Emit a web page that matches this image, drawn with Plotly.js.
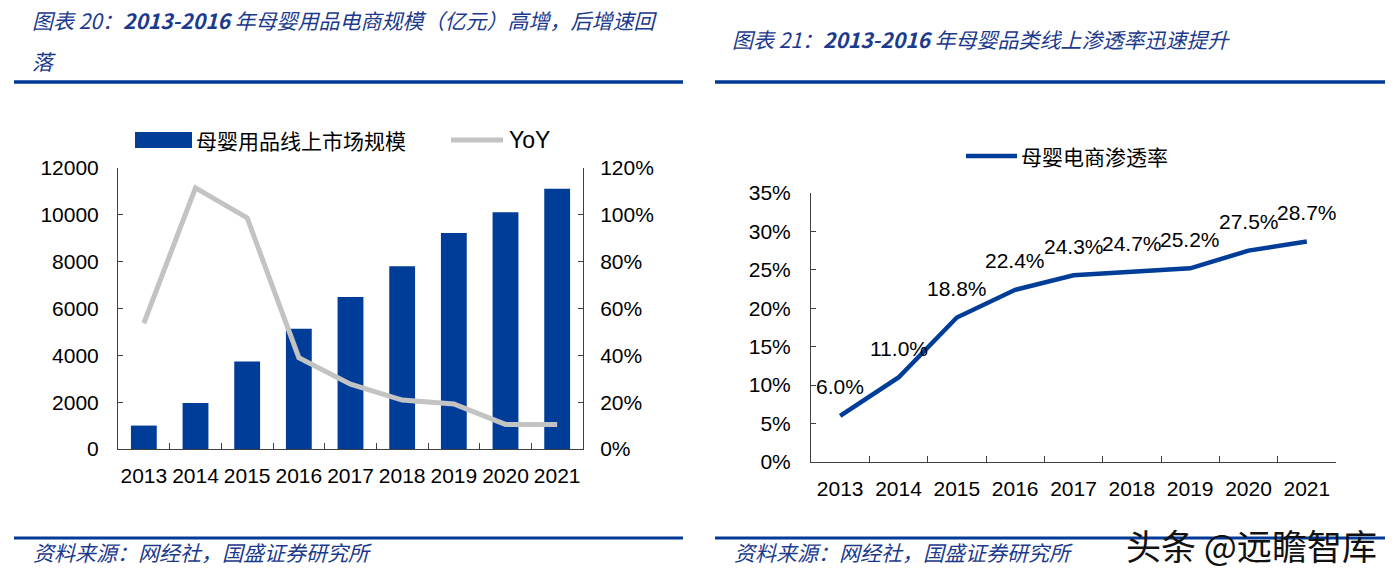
<!DOCTYPE html>
<html>
<head>
<meta charset="utf-8">
<script src="https://cdn.plot.ly/plotly-3.0.1.min.js"></script>
<style>
html,body{margin:0;padding:0;background:#fff;}
#chart{width:1400px;height:578px;}
</style>
</head>
<body>
<div id="chart"></div>
<script>
// ---- data ----
const years = ['2013','2014','2015','2016','2017','2018','2019','2020','2021'];
const marketSize = [1000, 1960, 3740, 5140, 6490, 7800, 9220, 10110, 11110];   // 亿元
const yoy = [0.537, 1.115, 0.987, 0.39, 0.277, 0.209, 0.192, 0.105, 0.105];
const penetration = [0.060, 0.110, 0.188, 0.224, 0.243, 0.247, 0.252, 0.275, 0.287];
const penetrationLabels = ['6.0%','11.0%','18.8%','22.4%','24.3%','24.7%','25.2%','27.5%','28.7%'];
const seriesNames = ['母婴用品线上市场规模', 'YoY', '母婴电商渗透率'];
const titleLeft1 = '图表 20：<b>2013-2016</b> 年母婴用品电商规模（亿元）高增，后增速回';
const titleLeft2 = '落';
const titleRight = '图表 21：<b>2013-2016</b> 年母婴品类线上渗透率迅速提升';
const sourceText = '资料来源：网经社，国盛证券研究所';
const watermark = '头条 @远瞻智库';

// ---- styling helpers ----
const W = 1400, H = 578;
const px = v => v / W;
const py = v => 1 - v / H;
const NUM = '"Liberation Sans", Arial, sans-serif';
const CJK = '"Noto Sans CJK SC", sans-serif';
const BLUE = '#003d99';
const TITLE_BLUE = '#1b3a8c';
const RULE = '#003a96';
const AX = '#404040';

const traces = [
  {type:'bar', x:years, y:marketSize, name:seriesNames[0], xaxis:'x', yaxis:'y',
   marker:{color:BLUE}, width:0.5, showlegend:false, hoverinfo:'skip'},
  {type:'scatter', mode:'lines', x:years, y:yoy, name:seriesNames[1], xaxis:'x', yaxis:'y2',
   line:{color:'#c3c3c3', width:5}, showlegend:false, hoverinfo:'skip'},
  {type:'scatter', mode:'lines', x:years, y:penetration, name:seriesNames[2], xaxis:'x2', yaxis:'y3',
   line:{color:BLUE, width:4.5}, showlegend:false, hoverinfo:'skip'}
];

function axisBase(extra){
  return Object.assign({showline:true, linecolor:AX, linewidth:1, showgrid:false, zeroline:false,
    ticks:'inside', ticklen:5, tickcolor:AX, tickangle:0,
    tickfont:{family:NUM, size:21, color:'#000'}, fixedrange:true}, extra);
}

const annotations = [];
// data labels for the penetration line (category index on x2)
penetration.forEach((v,i)=>{
  annotations.push({xref:'x2', yref:'y3', x:i, y:v, text:penetrationLabels[i], showarrow:false,
    yshift:29, font:{family:NUM, size:21, color:'#000'}});
});
// titles
const titleFont = {family:CJK, size:21, color:TITLE_BLUE, style:'italic'};
annotations.push({xref:'paper', yref:'paper', x:px(30), y:py(20), xanchor:'left', yanchor:'middle', showarrow:false, text:titleLeft1, font:titleFont});
annotations.push({xref:'paper', yref:'paper', x:px(30), y:py(61), xanchor:'left', yanchor:'middle', showarrow:false, text:titleLeft2, font:titleFont});
annotations.push({xref:'paper', yref:'paper', x:px(730), y:py(39), xanchor:'left', yanchor:'middle', showarrow:false, text:titleRight, font:titleFont});
// sources
const srcFont = {family:CJK, size:21, color:TITLE_BLUE, style:'italic'};
annotations.push({xref:'paper', yref:'paper', x:px(31), y:py(552), xanchor:'left', yanchor:'middle', showarrow:false, text:sourceText, font:srcFont});
annotations.push({xref:'paper', yref:'paper', x:px(732), y:py(552), xanchor:'left', yanchor:'middle', showarrow:false, text:sourceText, font:srcFont});
// watermark
annotations.push({xref:'paper', yref:'paper', x:px(1124), y:py(544), xanchor:'left', yanchor:'middle', showarrow:false, text:watermark, font:{family:CJK, size:35, color:'#111'}});
// legends (manual)
const legFont = {family:CJK, size:21, color:'#000'};
annotations.push({xref:'paper', yref:'paper', x:px(194), y:py(140), xanchor:'left', yanchor:'middle', showarrow:false, text:seriesNames[0], font:legFont});
annotations.push({xref:'paper', yref:'paper', x:px(507), y:py(140), xanchor:'left', yanchor:'middle', showarrow:false, text:seriesNames[1], font:{family:NUM, size:23, color:'#000'}});
annotations.push({xref:'paper', yref:'paper', x:px(1019), y:py(156), xanchor:'left', yanchor:'middle', showarrow:false, text:seriesNames[2], font:legFont});

const shapes = [
  // header rules
  {type:'line', xref:'paper', yref:'paper', x0:px(14), x1:px(683), y0:py(82), y1:py(82), line:{color:RULE, width:3.5}},
  {type:'line', xref:'paper', yref:'paper', x0:px(715), x1:px(1385), y0:py(82), y1:py(82), line:{color:RULE, width:3.5}},
  // footer rules
  {type:'line', xref:'paper', yref:'paper', x0:px(14), x1:px(683), y0:py(538), y1:py(538), line:{color:RULE, width:3}},
  {type:'line', xref:'paper', yref:'paper', x0:px(715), x1:px(1385), y0:py(538), y1:py(538), line:{color:RULE, width:3}},
  // legend swatches
  {type:'rect', xref:'paper', yref:'paper', x0:px(135), x1:px(192), y0:py(148), y1:py(132), fillcolor:BLUE, line:{width:0}},
  {type:'line', xref:'paper', yref:'paper', x0:px(451), x1:px(503), y0:py(140), y1:py(140), line:{color:'#c3c3c3', width:5}},
  {type:'line', xref:'paper', yref:'paper', x0:px(966), x1:px(1017), y0:py(156), y1:py(156), line:{color:BLUE, width:4.5}}
];

const layout = {
  width:W, height:H, margin:{l:0,r:0,t:0,b:0}, paper_bgcolor:'#fff', plot_bgcolor:'rgba(0,0,0,0)',
  showlegend:false,
  xaxis: axisBase({domain:[px(118), px(583)], anchor:'y', type:'category', tickson:'boundaries', ticklen:6, range:[-0.5, 8.5], ticklabelstandoff:8}),
  yaxis: axisBase({domain:[py(449), py(168)], anchor:'x', range:[0,12000], dtick:2000, tick0:0, tickformat:'d', ticklabelstandoff:14}),
  yaxis2: axisBase({overlaying:'y', side:'right', anchor:'x', range:[0,1.2], dtick:0.2, tick0:0, tickformat:'.0%', ticklabelstandoff:12}),
  xaxis2: axisBase({domain:[px(811), px(1336)], anchor:'y3', type:'category', tickson:'boundaries', ticklen:6, range:[-0.5, 8.5], ticklabelstandoff:8}),
  yaxis3: axisBase({domain:[py(462), py(193)], anchor:'x2', range:[0,0.35], dtick:0.05, tick0:0, tickformat:'.0%', ticklabelstandoff:15}),
  annotations, shapes
};

Plotly.newPlot('chart', traces, layout, {staticPlot:true, displayModeBar:false});
</script>
</body>
</html>
